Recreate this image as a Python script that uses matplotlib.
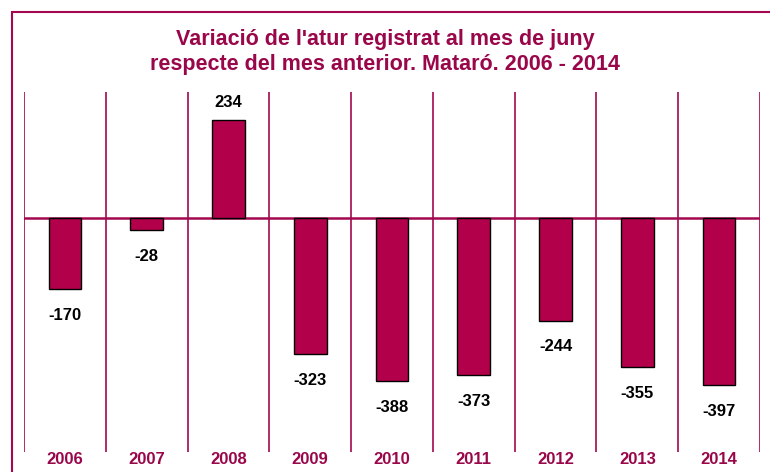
import matplotlib
matplotlib.use('Agg')
import matplotlib.pyplot as plt
from matplotlib.patches import Rectangle
from matplotlib import font_manager

years = ['2006', '2007', '2008', '2009', '2010', '2011', '2012', '2013', '2014']
variacio = [-170, -28, 234, -323, -388, -373, -244, -355, -397]

title = "Variació de l'atur registrat al mes de juny\nrespecte del mes anterior. Mataró. 2006 - 2014"

## condensed font if available, otherwise plain Liberation Sans
names = set(f.name for f in font_manager.fontManager.ttflist)
fam = 'Liberation Sans Narrow' if 'Liberation Sans Narrow' in names else 'Liberation Sans'
plt.rcParams['font.family'] = [fam, 'DejaVu Sans']

bar_col = '#B3004B'
line_col = '#A3084E'
text_col = '#99064A'

fig = plt.figure(figsize=(7.7, 4.72), dpi=100)
ax = fig.add_axes([24 / 770, 20 / 472, 736 / 770, 360 / 472])

x = list(range(len(years)))
ax.bar(x, variacio, width=0.4, color=bar_col, edgecolor='black', linewidth=1, zorder=3)

# vertical separators between the categories
for i in range(len(years) + 1):
    ax.axvline(i - 0.5, color=line_col, linewidth=1.2, zorder=1)
ax.axhline(0, color=line_col, linewidth=1.8, zorder=2)

for xi, v in zip(x, variacio):
    if v >= 0:
        ax.text(xi, v + 22, str(v), ha='center', va='bottom', fontsize=12, fontweight='bold')
    else:
        ax.text(xi, v - 45, str(v), ha='center', va='top', fontsize=12, fontweight='bold')
    ax.text(xi, -576, years[xi], ha='center', va='center', fontsize=12,
            fontweight='bold', color=text_col, clip_on=False)

ax.set_xlim(-0.5, len(years) - 0.5)
ax.set_ylim(-557, 300)
ax.axis('off')

fig.text(0.5, 1 - 52 / 472, title, ha='center', va='center', fontsize=15.5,
         fontweight='bold', color=text_col, linespacing=1.3)

# outer frame, runs off the right and bottom edges
fig.patches.append(Rectangle((12 / 770, -0.1), 1.2, 1 - 12 / 472 + 0.1, transform=fig.transFigure,
                             fill=False, edgecolor=line_col, linewidth=1.5))

fig.savefig('out.png', dpi=100)
